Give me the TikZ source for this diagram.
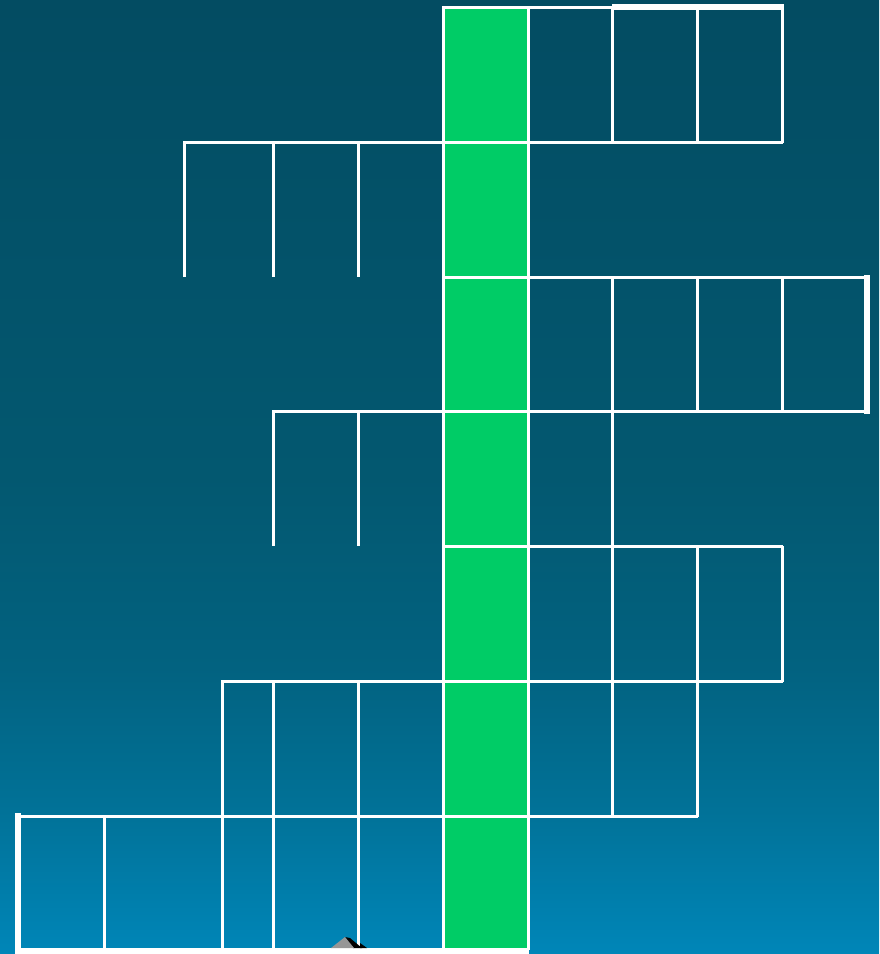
\documentclass[tikz,border=0pt]{standalone}
\definecolor{bgtop}{RGB}{3,76,98}
\definecolor{bgmida}{RGB}{3,88,112}
\definecolor{bgmidb}{RGB}{2,98,128}
\definecolor{bgmidc}{RGB}{1,114,152}
\definecolor{bgbot}{RGB}{0,134,184}
\definecolor{cellgreen}{RGB}{0,204,102}
\definecolor{cursorgray}{RGB}{150,150,150}
\pgfdeclareverticalshading{bgshade}{100bp}{color(0bp)=(bgbot); color(25bp)=(bgbot); color(32.5bp)=(bgmidc); color(40bp)=(bgmidb); color(50bp)=(bgmida); color(75bp)=(bgtop); color(100bp)=(bgtop)}
\tikzset{
  gridline/.style={draw=white, line width=3pt},
  thickline/.style={draw=white, line width=6.5pt},
}
\begin{document}
\begin{tikzpicture}[x=1pt,y=-1pt]
\useasboundingbox (0,0) rectangle (879,954);
\shade[shading=bgshade] (0,0) rectangle (879,954);
% green column
\fill[cellgreen] (443,7) rectangle (528,950);
% thick borders
\draw[thickline] (612,7) -- (784,7);
\draw[thickline] (867,275) -- (867,414);
\draw[thickline] (18,813) -- (18,954);
\draw[thickline] (15,951) -- (529,951);
% horizontal lines
\draw[gridline] (443,7) -- (612,7);
\draw[gridline] (183,142) -- (783,142);
\draw[gridline] (443,277) -- (867,277);
\draw[gridline] (272,411) -- (867,411);
\draw[gridline] (443,546) -- (783,546);
\draw[gridline] (221,681) -- (783,681);
\draw[gridline] (16,816) -- (698,816);
% green column borders
\draw[gridline] (443,6) -- (443,950);
\draw[gridline] (528,6) -- (528,950);
% row 1
\draw[gridline] (612,7) -- (612,142);
\draw[gridline] (697,7) -- (697,142);
\draw[gridline] (782,7) -- (782,143);
% row 2
\draw[gridline] (184,142) -- (184,277);
\draw[gridline] (273,142) -- (273,277);
\draw[gridline] (358,142) -- (358,277);
% row 3
\draw[gridline] (612,277) -- (612,411);
\draw[gridline] (697,277) -- (697,411);
\draw[gridline] (782,277) -- (782,411);
% row 4
\draw[gridline] (273,411) -- (273,546);
\draw[gridline] (358,411) -- (358,546);
\draw[gridline] (612,411) -- (612,546);
% row 5
\draw[gridline] (612,546) -- (612,681);
\draw[gridline] (697,546) -- (697,681);
\draw[gridline] (782,546) -- (782,682);
% rows 6 and 7
\draw[gridline] (222,681) -- (222,950);
\draw[gridline] (273,681) -- (273,950);
\draw[gridline] (358,681) -- (358,950);
\draw[gridline] (612,681) -- (612,816);
\draw[gridline] (697,681) -- (697,817);
\draw[gridline] (104,816) -- (104,950);
% cursor fragment
\fill[black] (345,937) -- (350,938) -- (362,948) -- (353,948) -- cycle;
\fill[black] (360,943) -- (367,948) -- (360,948) -- cycle;
\fill[cursorgray] (331,948) -- (345,937) -- (354,948) -- cycle;
\end{tikzpicture}
\end{document}
